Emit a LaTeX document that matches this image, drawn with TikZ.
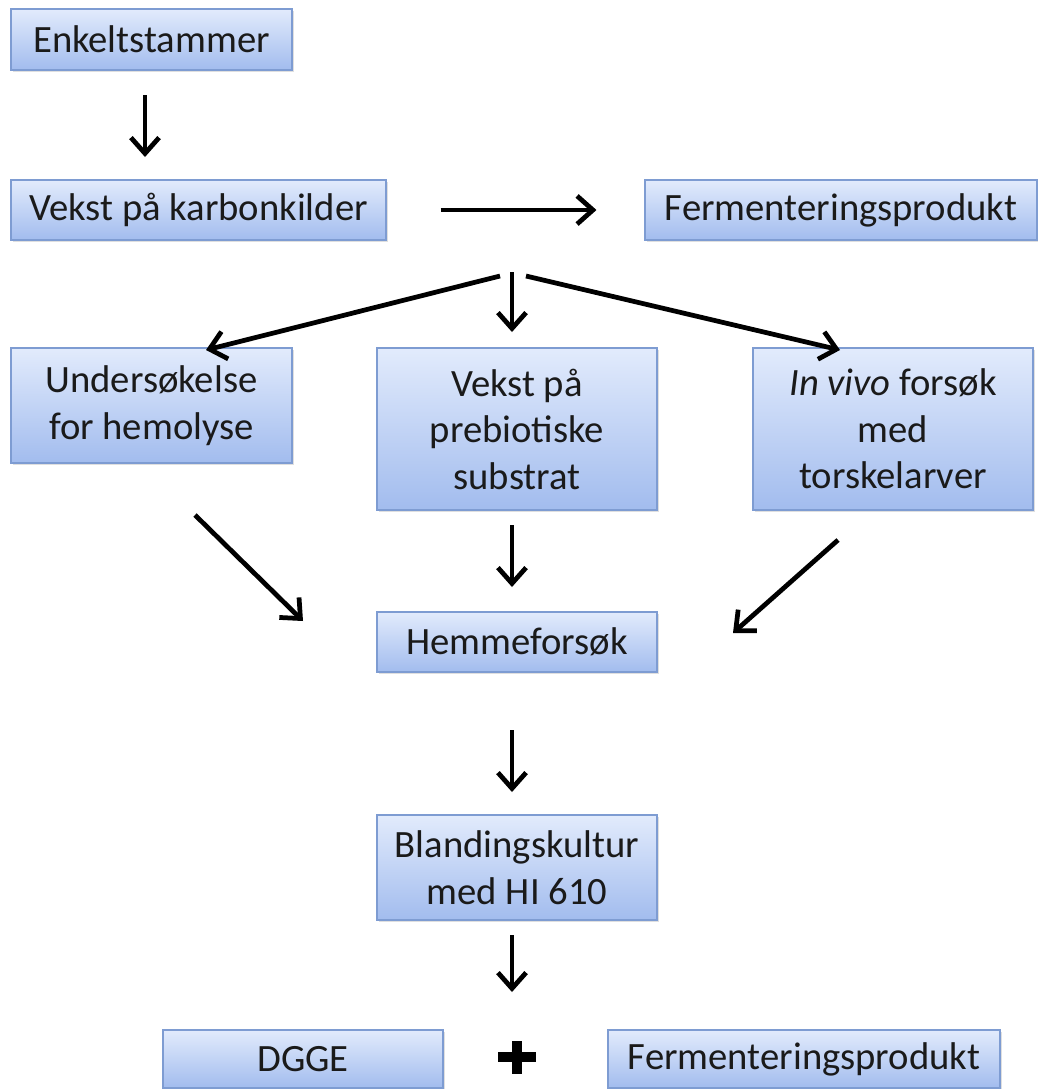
\documentclass[tikz,border=0pt]{standalone}
\usepackage{fontspec}
\setmainfont{Carlito}
\usetikzlibrary{arrows.meta,shadows}

\definecolor{boxtop}{HTML}{E2EBFC}
\definecolor{boxbot}{HTML}{A2BCEE}
\definecolor{boxline}{HTML}{7E9CD2}
\definecolor{txt}{HTML}{1A1A1A}

\begin{document}
\begin{tikzpicture}[x=0.02cm,y=-0.02cm,
    stepbox/.style={rectangle,draw=boxline,line width=0.6pt,top color=boxtop,bottom color=boxbot,
      drop shadow={shadow xshift=1.2pt,shadow yshift=-1.2pt,opacity=0.25},
      text=txt,align=center,inner sep=0pt,font=\fontsize{22}{26.5}\selectfont},
    arr/.style={line width=2.7pt,-{Straight Barb[length=9pt,width=16pt,line width=2.7pt]}}]

\useasboundingbox (0,0) rectangle (1038,1089);

\node[stepbox,minimum width=281*0.02cm,minimum height=61*0.02cm] (enkel) at (151.5,39.5) {Enkeltstammer};
\node[stepbox,minimum width=375*0.02cm,minimum height=60*0.02cm] (karbon) at (198.5,210) {Vekst på karbonkilder};
\node[stepbox,minimum width=392*0.02cm,minimum height=60*0.02cm] (ferm) at (841,210) {Fermenteringsprodukt};

\node[stepbox,minimum width=281*0.02cm,minimum height=115*0.02cm] (hemo) at (151.5,405.5) {Undersøkelse\\for hemolyse};
\node[stepbox,minimum width=280*0.02cm,minimum height=162*0.02cm] (prebio) at (517,429) {Vekst på\\prebiotiske\\substrat};
\node[stepbox,minimum width=280*0.02cm,minimum height=162*0.02cm] (invivo) at (893,429) {\textit{In vivo} forsøk\\med\\torskelarver};

\node[stepbox,minimum width=280*0.02cm,minimum height=60*0.02cm] (hemme) at (517,642) {Hemmeforsøk};
\node[stepbox,minimum width=280*0.02cm,minimum height=105*0.02cm] (bland) at (517,867.5) {Blandingskultur\\med HI 610};

\node[stepbox,minimum width=280*0.02cm,minimum height=58*0.02cm] (dgge) at (303,1059) {DGGE};
\node[stepbox,minimum width=392*0.02cm,minimum height=58*0.02cm] (ferm2) at (804,1059) {Fermenteringsprodukt};

% free arrow ends
\coordinate (enkelOut) at (145,95);
\coordinate (karbonIn) at (145,157);
\coordinate (splitL) at (500,276);
\coordinate (splitM) at (512,272);
\coordinate (splitR) at (526,276);
\coordinate (hemoIn) at (206,350);
\coordinate (prebioIn) at (512,332);
\coordinate (invivoIn) at (840,350);
\coordinate (hemoOut) at (195,515);
\coordinate (hemmeL) at (303,621);
\coordinate (prebioOut) at (512,525);
\coordinate (hemmeIn) at (512,587);
\coordinate (invivoOut) at (838,540);
\coordinate (hemmeR) at (733,633);
\coordinate (hemmeOut) at (512,730);
\coordinate (blandIn) at (512,792);
\coordinate (blandOut) at (512,935);
\coordinate (dggeIn) at (512,992);
\coordinate (plus) at (517,1057);

\draw[arr] (enkelOut) -- (karbonIn);
\draw[arr,shorten <=1.08cm,shorten >=0.96cm] (karbon) -- (ferm);
\draw[arr] (splitL) -- (hemoIn);
\draw[arr] (splitM) -- (prebioIn);
\draw[arr] (splitR) -- (invivoIn);
\draw[arr] (hemoOut) -- (hemmeL);
\draw[arr] (prebioOut) -- (hemmeIn);
\draw[arr] (invivoOut) -- (hemmeR);
\draw[arr] (hemmeOut) -- (blandIn);
\draw[arr] (blandOut) -- (dggeIn);

% plus sign
\fill ([xshift=-0.38cm,yshift=-0.1cm]plus) rectangle ([xshift=0.38cm,yshift=0.1cm]plus);
\fill ([xshift=-0.1cm,yshift=-0.33cm]plus) rectangle ([xshift=0.1cm,yshift=0.33cm]plus);
\end{tikzpicture}
\end{document}
